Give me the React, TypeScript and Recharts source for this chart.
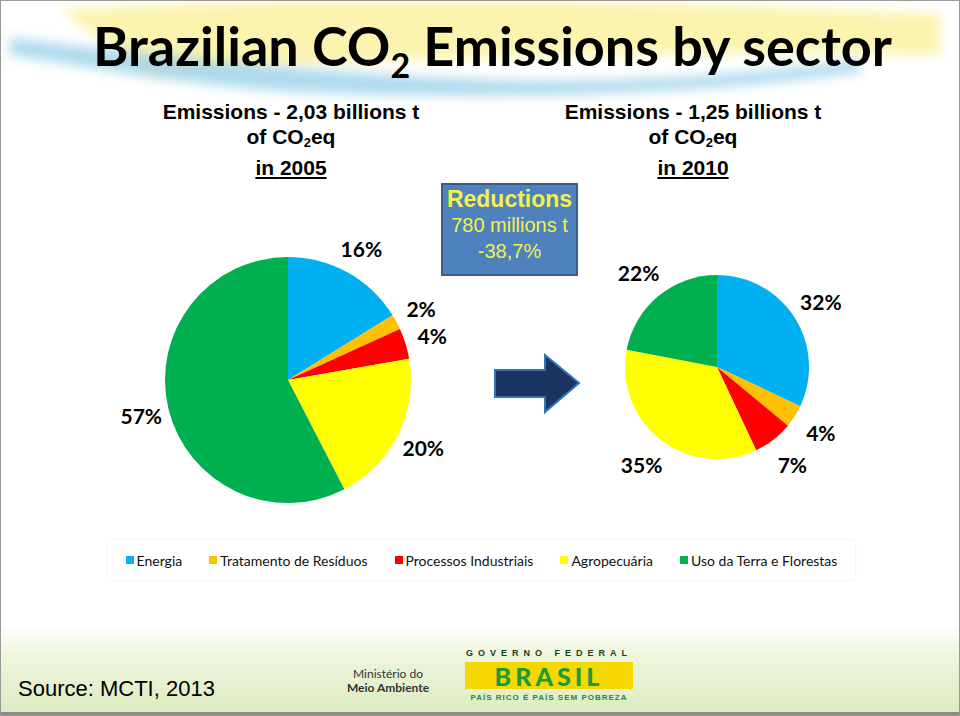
import { PieChart, Pie, Cell, Legend } from 'recharts';

const SECTORS = ['Energia', 'Tratamento de Resíduos', 'Processos Industriais', 'Agropecuária', 'Uso da Terra e Florestas'];
const COLORS = ['#00b0f0', '#ffc000', '#ff0000', '#ffff00', '#00b050'];
const SHARE_2005 = [16, 2, 4, 20, 57];
const SHARE_2010 = [32, 4, 7, 35, 22];

const data2005 = SECTORS.map((name, i) => ({ name, value: SHARE_2005[i] }));
const data2010 = SECTORS.map((name, i) => ({ name, value: SHARE_2010[i] }));

const RAD = Math.PI / 180;

const pctLabel = (gap: number) => (p: any) => {
  const r = p.outerRadius + gap;
  const x = p.cx + r * Math.cos(-p.midAngle * RAD);
  const y = p.cy + r * Math.sin(-p.midAngle * RAD);
  return (
    <text x={x} y={y} textAnchor="middle" dominantBaseline="central" fill="#000"
      fontFamily="Lato, sans-serif" fontWeight={700} fontSize={21}>
      {p.value}%
    </text>
  );
};

const renderLegend = () => (
  <div style={{ display: 'flex', justifyContent: 'center', alignItems: 'center', height: 40, gap: 27, fontFamily: 'Lato, sans-serif', fontSize: 14, color: '#111' }}>
    {SECTORS.map((s, i) => (
      <span key={s} style={{ display: 'flex', alignItems: 'center' }}>
        <span style={{ width: 8, height: 8, background: COLORS[i], marginRight: 3 }} />
        {s}
      </span>
    ))}
  </div>
);

const arial = '"Liberation Sans", Arial, sans-serif';

const Heading = ({ x, total, year }: { x: number; total: string; year: string }) => (
  <div style={{ position: 'absolute', left: x - 150, top: 99, width: 300, textAlign: 'center', fontFamily: arial, fontWeight: 700, fontSize: 21, lineHeight: '25px', color: '#000' }}>
    <div>Emissions - {total} billions t</div>
    <div>of CO<sub style={{ fontSize: 13, verticalAlign: -3 }}>2</sub>eq</div>
    <div style={{ textDecoration: 'underline' }}>in {year}</div>
  </div>
);

export default function App() {
  return (
    <div style={{ position: 'absolute', left: 0, top: 0, width: 960, height: 716, overflow: 'hidden', background: '#fff' }}>
      {/* fundo: pinceladas do topo e faixa verde do rodapé */}
      <svg width={960} height={716} style={{ position: 'absolute', left: 0, top: 0 }}>
        <defs>
          <filter id="blur" x="-10%" y="-50%" width="120%" height="200%">
            <feGaussianBlur stdDeviation="6" />
          </filter>
          <linearGradient id="foot" x1="0" y1="0" x2="0" y2="1">
            <stop offset="0" stopColor="#ffffff" />
            <stop offset="0.35" stopColor="#eef5dc" />
            <stop offset="1" stopColor="#dcecc0" />
          </linearGradient>
        </defs>
        <path d="M60,10 C300,-5 700,0 940,15 L940,55 C700,50 400,55 150,75 Z" fill="#fbf1a0" filter="url(#blur)" opacity={0.85} />
        <path d="M10,38 C200,60 420,85 600,80 C700,78 780,70 860,60 L860,72 C700,95 500,100 300,92 C180,85 80,65 10,55 Z" fill="#9fd3ea" filter="url(#blur)" opacity={0.85} />
        <rect x={0} y={625} width={960} height={88} fill="url(#foot)" />
        <rect x={0} y={712} width={960} height={4} fill="#8c8c8c" />
        <rect x={0.5} y={0.5} width={959} height={715} fill="none" stroke="#999" />
        {/* faixa amarela da marca */}
        <rect x={465} y={662} width={168} height={27} fill="#f5d800" />
      </svg>

      <div style={{ position: 'absolute', left: 93, top: 6, fontFamily: 'Lato, sans-serif', fontWeight: 700, fontSize: 54, color: '#000', whiteSpace: 'nowrap', lineHeight: '80px' }}>
        Brazilian CO<sub style={{ fontSize: 34, verticalAlign: -12 }}>2</sub> Emissions by sector
      </div>

      <Heading x={291} total="2,03" year="2005" />
      <Heading x={693} total="1,25" year="2010" />

      <PieChart width={960} height={716} margin={{ top: 0, right: 0, bottom: 0, left: 0 }} style={{ position: 'absolute', left: 0, top: 0 }}>
        <Pie data={data2005} dataKey="value" nameKey="name" cx={288} cy={380} outerRadius={123}
          startAngle={90} endAngle={-270} stroke="none" isAnimationActive={false}
          label={pctLabel(28)} labelLine={false}>
          {data2005.map((d, i) => <Cell key={d.name} fill={COLORS[i]} />)}
        </Pie>
        <Pie data={data2010} dataKey="value" nameKey="name" cx={717} cy={367} outerRadius={92}
          startAngle={90} endAngle={-270} stroke="none" isAnimationActive={false}
          label={pctLabel(31)} labelLine={false}>
          {data2010.map((d, i) => <Cell key={d.name} fill={COLORS[i]} />)}
        </Pie>
        <Legend content={renderLegend}
          wrapperStyle={{ position: 'absolute', left: 108, top: 540, width: 747, height: 40, background: '#fff', boxShadow: '0 0 2px #e4e4e4' }} />
      </PieChart>

      {/* caixa de redução */}
      <div style={{ position: 'absolute', left: 441, top: 183, width: 133, height: 89, background: '#4f81bd', border: '2px solid #385d8a', color: '#f2f24a', fontFamily: arial, textAlign: 'center' }}>
        <div style={{ fontWeight: 700, fontSize: 23, lineHeight: '26px', marginTop: 1 }}>Reductions</div>
        <div style={{ fontSize: 20, lineHeight: '27px' }}>780 millions t</div>
        <div style={{ fontSize: 20, lineHeight: '24px' }}>-38,7%</div>
      </div>

      {/* seta */}
      <svg width={960} height={716} style={{ position: 'absolute', left: 0, top: 0, pointerEvents: 'none' }}>
        <polygon points="495,370 545,370 545,355 579,383 545,412 545,397 495,397" fill="#1b3560" stroke="#2e75b6" strokeWidth={2} />
      </svg>

      {/* rodapé */}
      <div style={{ position: 'absolute', left: 18, top: 676, fontFamily: arial, fontSize: 22, color: '#000' }}>Source: MCTI, 2013</div>
      <div style={{ position: 'absolute', left: 340, top: 667, width: 96, textAlign: 'center', fontFamily: 'Lato, sans-serif', fontSize: 12, lineHeight: '14px', color: '#333' }}>
        <div>Ministério do</div>
        <div style={{ fontWeight: 700 }}>Meio Ambiente</div>
      </div>
      <div style={{ position: 'absolute', left: 465, top: 648, width: 168, fontFamily: arial, fontSize: 9, fontWeight: 700, letterSpacing: 5, color: '#1d4020', lineHeight: '11px', textAlign: 'center', whiteSpace: 'nowrap' }}>GOVERNO FEDERAL</div>
      <div style={{ position: 'absolute', left: 465, top: 664, width: 168, fontFamily: 'Lato, sans-serif', fontSize: 25, fontWeight: 900, color: '#1e9a3c', lineHeight: '24px', letterSpacing: 4, textAlign: 'center' }}>BRASIL</div>
      <div style={{ position: 'absolute', left: 465, top: 693, width: 168, fontFamily: arial, fontSize: 8, fontWeight: 700, color: '#1e8a3a', letterSpacing: 1, lineHeight: '10px', textAlign: 'center', whiteSpace: 'nowrap' }}>PAÍS RICO É PAÍS SEM POBREZA</div>
    </div>
  );
}
